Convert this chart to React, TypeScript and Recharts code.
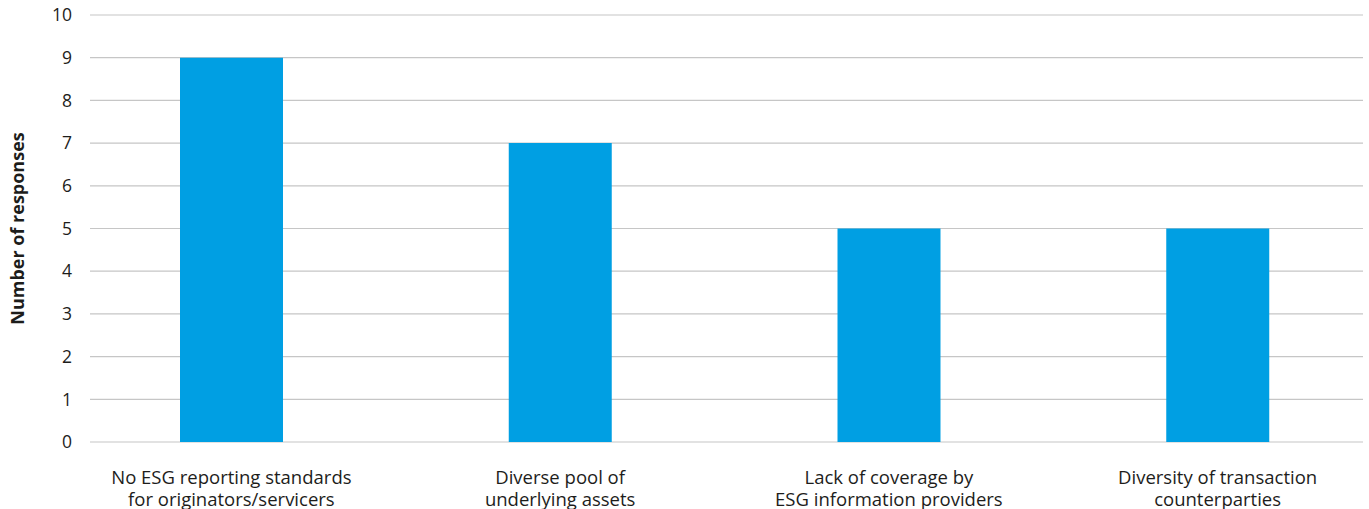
import { BarChart, Bar, XAxis, YAxis, CartesianGrid } from "recharts";

const categories = [
  ["No ESG reporting standards", "for originators/servicers"],
  ["Diverse pool of", "underlying assets"],
  ["Lack of coverage by", "ESG information providers"],
  ["Diversity of transaction", "counterparties"],
];
const responses = [9, 7, 5, 5];
const yTicks = [0, 1, 2, 3, 4, 5, 6, 7, 8, 9, 10];

const data = categories.map((c, i) => ({ name: c.join(" "), value: responses[i] }));

const FONT = "'Open Sans', sans-serif";
const INK = "#1d1d1b";

function CategoryTick({ x, y, index }: any) {
  const lines = categories[index] ?? [];
  return (
    <text x={x} y={y} textAnchor="middle" fontFamily={FONT} fontSize={18.5} fill={INK}>
      {lines.map((l, i) => (
        <tspan key={i} x={x} dy={i === 0 ? 34 : 21.5}>
          {l}
        </tspan>
      ))}
    </text>
  );
}

export default function App() {
  return (
    <div style={{ position: "absolute", left: 0, top: 0, background: "#fff" }}>
      <BarChart
        width={1369}
        height={509}
        data={data}
        margin={{ top: 15, right: 6, bottom: 0, left: 0 }}
        barCategoryGap={0}
      >
        <CartesianGrid vertical={false} stroke="#c6c6c6" strokeWidth={1.2} />
        <XAxis
          dataKey="name"
          height={67}
          axisLine={false}
          tickLine={false}
          interval={0}
          padding={{ left: -23, right: -19 }}
          tick={<CategoryTick />}
        />
        <YAxis
          width={90}
          domain={[0, 10]}
          ticks={yTicks}
          interval={0}
          axisLine={false}
          tickLine={false}
          tickSize={0}
          tickMargin={18}
          tick={{ fontFamily: FONT, fontSize: 17.5, fill: INK }}
          label={{
            content: () => (
              <text
                x={17}
                y={228.5}
                transform="rotate(-90 17 228.5)"
                textAnchor="middle"
                dominantBaseline="central"
                fontFamily={FONT}
                fontWeight={700}
                fontSize={18}
                fill={INK}
              >
                Number of responses
              </text>
            ),
          }}
        />
        <Bar dataKey="value" fill="#009fe3" barSize={103} isAnimationActive={false} />
      </BarChart>
    </div>
  );
}
